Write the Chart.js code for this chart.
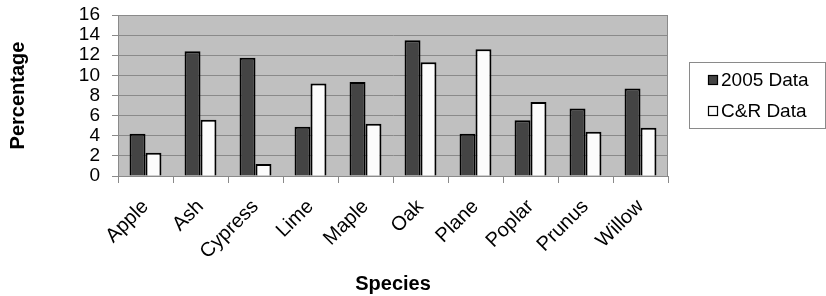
<!DOCTYPE html>
<html>
<head>
<meta charset="utf-8">
<script src="https://cdn.jsdelivr.net/npm/chart.js@4/dist/chart.umd.min.js"></script>
<style>
  html, body { margin: 0; padding: 0; background: #fff; }
  #wrap { width: 826px; height: 296px; }
</style>
</head>
<body>
<div id="wrap"><canvas id="grafico" width="826" height="296"></canvas></div>
<script>
// datos del grafico
var especies = ['Apple', 'Ash', 'Cypress', 'Lime', 'Maple', 'Oak', 'Plane', 'Poplar', 'Prunus', 'Willow'];
var datos2005 = [4.2, 12.4, 11.75, 4.9, 9.35, 13.5, 4.2, 5.55, 6.7, 8.7];
var datosCR = [2.3, 5.6, 1.2, 9.2, 5.2, 11.3, 12.6, 7.35, 4.4, 4.8];
var nombresSeries = ['2005 Data', 'C&R Data'];
var ticksY = [0, 2, 4, 6, 8, 10, 12, 14, 16];

var colorOscuro = '#444444';
var colorClaro = '#fcfcfc';

// fondo gris y borde del area de trazado
var fondoPlot = {
  id: 'fondoPlot',
  beforeDraw: function (chart) {
    var a = chart.chartArea, ctx = chart.ctx;
    ctx.save();
    ctx.fillStyle = '#c0c0c0';
    ctx.fillRect(a.left, a.top, a.right - a.left, a.bottom - a.top);
    ctx.restore();
  },
  afterDatasetsDraw: function (chart) {
    var a = chart.chartArea, ctx = chart.ctx;
    ctx.save();
    ctx.strokeStyle = '#8a8a8a';
    ctx.lineWidth = 1;
    ctx.strokeRect(a.left + 0.5, a.top + 0.5, a.right - a.left - 1, a.bottom - a.top);
    ctx.restore();
  }
};

// leyenda con caja, a la derecha
var leyendaCaja = {
  id: 'leyendaCaja',
  afterDraw: function (chart) {
    var ctx = chart.ctx;
    ctx.save();
    ctx.strokeStyle = '#8a8a8a';
    ctx.lineWidth = 1;
    ctx.strokeRect(689.5, 62.5, 136, 66);
    ctx.font = '19px Arial, "Liberation Sans", sans-serif';
    ctx.textBaseline = 'middle';
    ctx.fillStyle = '#000';
    var colores = [colorOscuro, colorClaro];
    var ys = [80, 111];
    for (var i = 0; i < nombresSeries.length; i++) {
      ctx.fillStyle = colores[i];
      ctx.fillRect(708.5, ys[i] - 4.5, 9, 9);
      ctx.strokeStyle = '#000';
      ctx.lineWidth = 1.2;
      ctx.strokeRect(708.5, ys[i] - 4.5, 9, 9);
      ctx.fillStyle = '#000';
      ctx.fillText(nombresSeries[i], 721, ys[i] + 1);
    }
    ctx.restore();
  }
};

var ctx = document.getElementById('grafico').getContext('2d');
new Chart(ctx, {
  type: 'bar',
  data: {
    labels: especies,
    datasets: [
      {
        label: nombresSeries[0],
        data: datos2005,
        backgroundColor: colorOscuro,
        borderColor: '#000',
        borderWidth: 2,
        categoryPercentage: 0.58,
        barPercentage: 1
      },
      {
        label: nombresSeries[1],
        data: datosCR,
        backgroundColor: colorClaro,
        borderColor: '#000',
        borderWidth: 2,
        categoryPercentage: 0.58,
        barPercentage: 1
      }
    ]
  },
  options: {
    responsive: false,
    animation: false,
    layout: { padding: { left: 0, right: 158, top: 15, bottom: 0 } },
    plugins: {
      legend: { display: false },
      tooltip: { enabled: false }
    },
    scales: {
      x: {
        offset: true,
        grid: {
          offset: true,
          drawOnChartArea: false,
          drawTicks: true,
          tickLength: 7,
          color: '#8a8a8a'
        },
        border: { display: true, color: '#8a8a8a' },
        ticks: {
          color: '#000',
          font: { family: 'Arial, "Liberation Sans", sans-serif', size: 20 },
          minRotation: 45,
          maxRotation: 45,
          padding: 12,
          autoSkip: false
        },
        title: {
          display: true,
          text: 'Species',
          color: '#000',
          font: { family: 'Arial, "Liberation Sans", sans-serif', size: 20, weight: 'bold' },
          padding: { top: 4, bottom: 0 }
        },
        afterFit: function (escala) {
          escala.height = 120;
          escala.paddingTop = 0;
          escala.paddingLeft = 0;
          escala.paddingRight = 0;
        }
      },
      y: {
        min: 0,
        max: 16,
        afterBuildTicks: function (escala) {
          escala.ticks = ticksY.map(function (v) { return { value: v }; });
        },
        grid: {
          color: '#8a8a8a',
          tickLength: 6,
          drawTicks: true
        },
        border: { display: true, color: '#8a8a8a' },
        ticks: {
          color: '#000',
          font: { family: 'Arial, "Liberation Sans", sans-serif', size: 19 },
          padding: 12,
          autoSkip: false
        },
        title: {
          display: true,
          text: 'Percentage',
          color: '#000',
          font: { family: 'Arial, "Liberation Sans", sans-serif', size: 20, weight: 'bold' },
          padding: { top: 6, bottom: 0 }
        },
        afterFit: function (escala) {
          escala.width = 118;
          escala.paddingTop = 0;
          escala.paddingBottom = 0;
        }
      }
    }
  },
  plugins: [fondoPlot, leyendaCaja]
});
</script>
</body>
</html>
